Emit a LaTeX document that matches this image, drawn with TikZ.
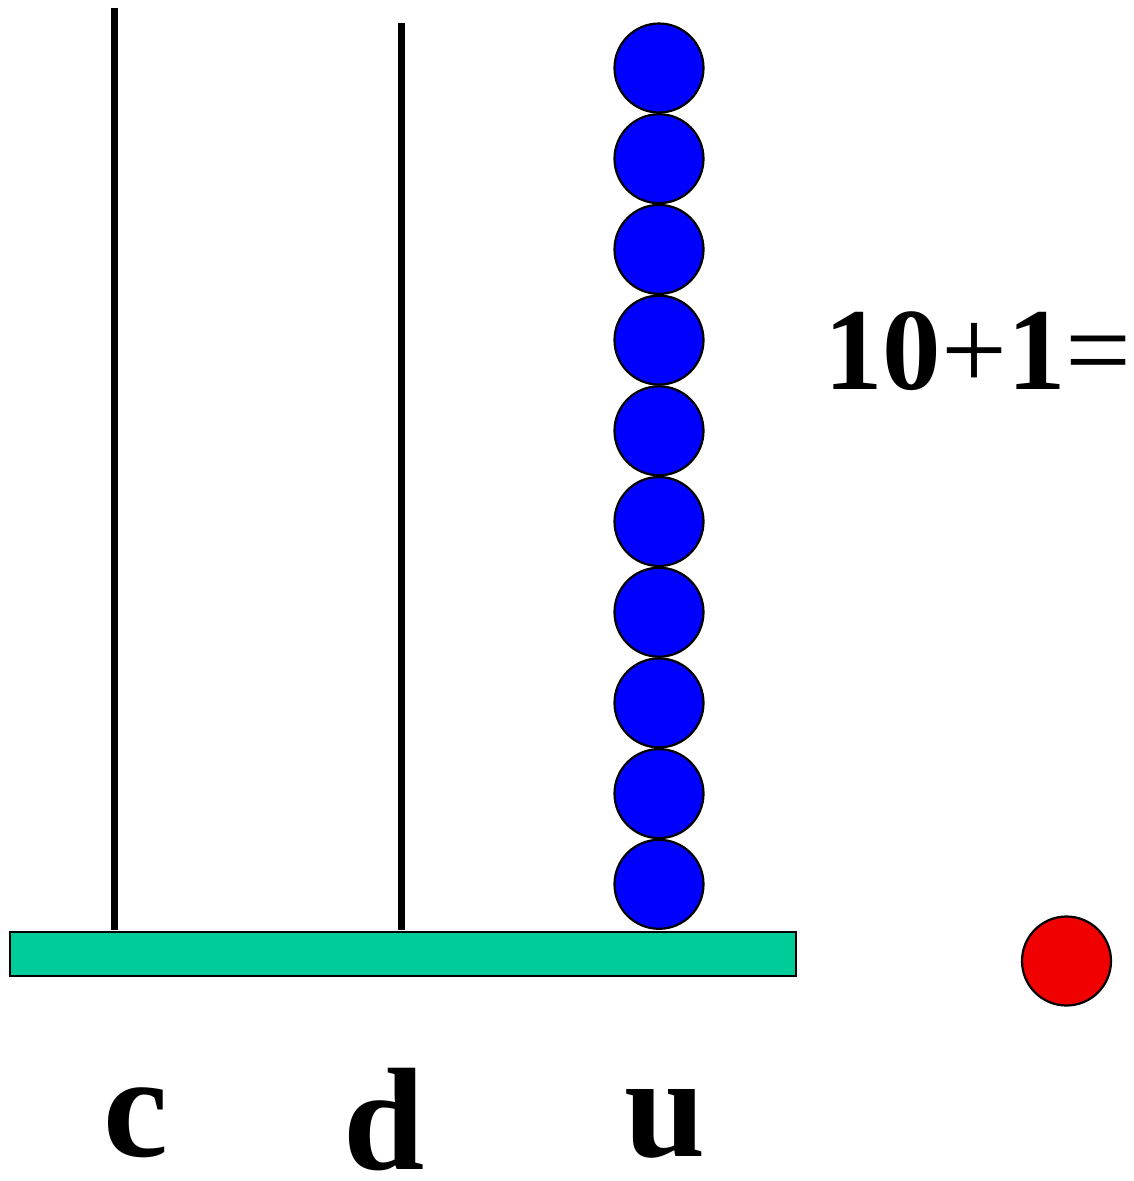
\documentclass[tikz,border=0pt]{standalone}
\usepackage{fontspec}
\setmainfont{Liberation Serif}
\definecolor{basegreen}{HTML}{00CC99}
\definecolor{beadblue}{HTML}{0000FF}
\definecolor{beadred}{HTML}{F00000}
\begin{document}
\begin{tikzpicture}[x=1pt,y=-1pt,
  rod/.style={line width=6.5pt,black},
  bead/.style={circle,draw=black,line width=2.2pt,minimum size=89pt,inner sep=0pt},
  label/.style={font=\fontsize{146}{146}\selectfont\bfseries,inner sep=0pt,anchor=base,text depth=0pt},
  eq/.style={font=\fontsize{117}{117}\selectfont\bfseries,inner sep=0pt,anchor=base west,text depth=0pt}]
\useasboundingbox (0,0) rectangle (1134,1181);
% rods
\coordinate (ctop) at (114.5,8);
\coordinate (cbot) at (114.5,930);
\coordinate (dtop) at (401.5,23);
\coordinate (dbot) at (401.5,930);
\draw[rod] (ctop) -- (cbot);
\draw[rod] (dtop) -- (dbot);
% base
\node[draw=black,line width=2.5pt,fill=basegreen,inner sep=0pt,minimum width=786pt,minimum height=44pt,anchor=north west] (base) at (8.5,930.5) {};
% beads
\foreach \i/\y in {1/68,2/158.7,3/249.4,4/340.1,5/430.8,6/521.5,7/612.2,8/702.9,9/793.6,10/884.3}{
  \node[bead,fill=beadblue] (b\i) at (659,\y) {};
}
\node[bead,fill=beadred] (red) at (1066.5,961) {};
% labels
\node[label] (lc) at (136,1156) {c};
\node[label] (ld) at (384,1169) {d};
\node[label] (lu) at (665,1156) {u};
\node[eq] (eqn) at (824,389) {10{\mdseries+}1{\mdseries=}};
\end{tikzpicture}
\end{document}
